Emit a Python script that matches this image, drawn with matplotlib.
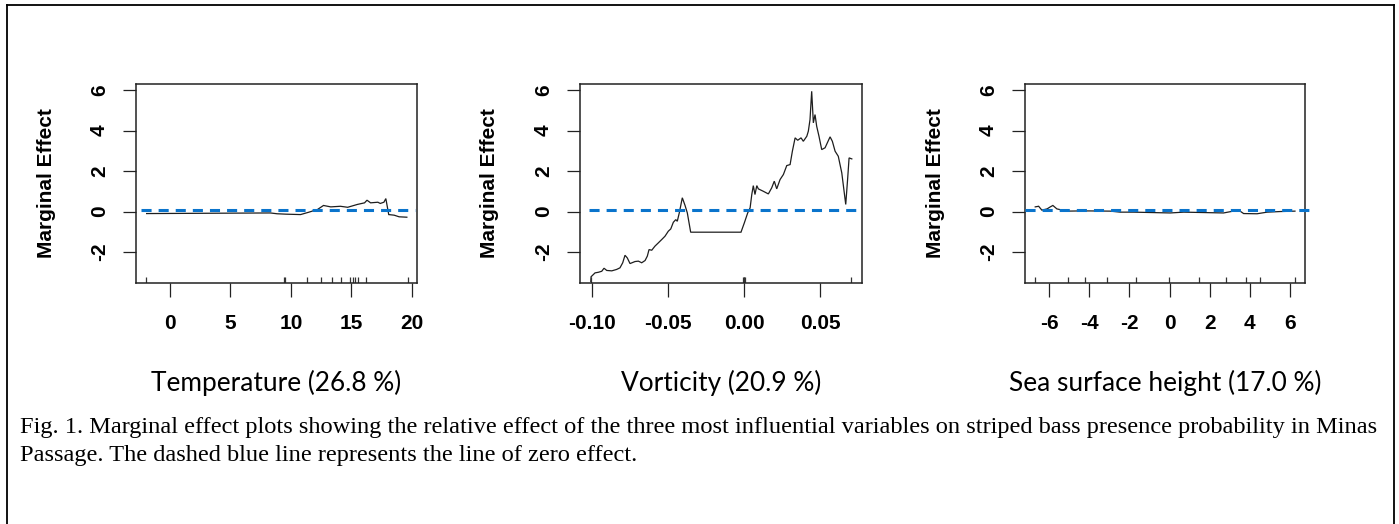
import matplotlib
matplotlib.use("Agg")
import matplotlib.pyplot as plt
from matplotlib.lines import Line2D

# ---------------- data ----------------
temp_x = [-1.94, 8.3, 8.86, 9.6, 10.8, 11.5, 12.2, 12.7, 13.3, 14.1, 14.7, 15.5,
          16.1, 16.3, 16.6, 17.2, 17.4, 17.7, 17.86, 18.0, 18.1, 18.55, 18.96, 19.6]
temp_y = [-0.10, -0.07, -0.11, -0.13, -0.15, -0.03, 0.10, 0.30, 0.23, 0.26, 0.21, 0.35,
          0.43, 0.56, 0.43, 0.46, 0.40, 0.46, 0.64, 0.18, -0.15, -0.18, -0.26, -0.28]
temp_rug = [-1.99, 9.47, 9.52, 11.35, 12.52, 13.37, 14.12, 14.87, 15.17, 15.3, 15.59, 16.2, 19.66]

vort_x = [-0.101, -0.1008, -0.0982, -0.096, -0.0938, -0.0923, -0.0905, -0.0872, -0.084,
          -0.0818, -0.080, -0.0785, -0.077, -0.0752, -0.0719, -0.0697, -0.0675, -0.0653,
          -0.0638, -0.0627, -0.0609, -0.0588, -0.0566, -0.0543, -0.0522, -0.050, -0.0484,
          -0.0467, -0.0451, -0.0441, -0.0428, -0.0408, -0.039, -0.0375, -0.0353, -0.0022,
          0.0, 0.0022, 0.0038, 0.0049, 0.0059, 0.007, 0.0082, 0.0092, 0.0125, 0.0158,
          0.018, 0.0197, 0.0213, 0.0235, 0.0257, 0.0279, 0.0301, 0.0316, 0.0334, 0.0351,
          0.0373, 0.0388, 0.0411, 0.0421, 0.0432, 0.0443, 0.0454, 0.0465, 0.0476, 0.0491,
          0.0509, 0.0531, 0.0564, 0.0579, 0.0597, 0.0618, 0.0641, 0.0667, 0.068, 0.0689,
          0.0707]
vort_y = [-3.45, -3.22, -3.03, -3.0, -2.95, -2.8, -2.91, -2.93, -2.86,
          -2.78, -2.53, -2.16, -2.29, -2.57, -2.47, -2.45, -2.53, -2.42,
          -2.2, -1.88, -1.91, -1.71, -1.55, -1.38, -1.22, -0.97, -0.86,
          -0.53, -0.40, -0.48, -0.07, 0.68, 0.30, -0.07, -1.02, -1.02,
          -0.56, -0.07, 0.18, 0.84, 1.28, 0.84, 1.28, 1.12, 1.0, 0.87,
          1.17, 1.5, 1.12, 1.58, 1.83, 2.27, 2.32, 2.98, 3.64, 3.52,
          3.64, 3.47, 3.72, 3.97, 4.54, 5.94, 4.38, 4.79, 4.21, 3.72,
          3.06, 3.15, 3.69, 3.47, 2.98, 2.73, 1.91, 0.35, 1.66, 2.65,
          2.6]
vort_rug = [-0.101, -0.0006, -0.0003, 0.0, 0.0003, 0.07]

ssh_x = [-6.7, -6.53, -6.37, -6.11, -5.95, -5.82, -5.62, -5.12, -4.45, -3.96, -2.96,
         -2.46, -1.8, 0.03, 0.7, 2.69, 3.44, 3.69, 4.36, 4.86, 5.52, 6.25]
ssh_y = [0.23, 0.26, 0.07, 0.13, 0.23, 0.30, 0.13, 0.02, 0.03, 0.03, 0.02,
         -0.03, -0.03, -0.07, -0.03, -0.07, 0.07, -0.10, -0.11, -0.03, 0.0, 0.02]
ssh_rug = [-6.73, -5.07, -4.2, -3.12, -1.68, -0.01, 1.48, 2.81, 3.83, 4.52, 6.27]

x_ticks = [[0, 5, 10, 15, 20],
           [-0.10, -0.05, 0.00, 0.05],
           [-6, -4, -2, 0, 2, 4, 6]]
x_ticklabels = [["0", "5", "10", "15", "20"],
                ["-0.10", "-0.05", "0.00", "0.05"],
                ["-6", "-4", "-2", "0", "2", "4", "6"]]
y_ticks = [-2, 0, 2, 4, 6]
y_ticklabels = ["-2", "0", "2", "4", "6"]
x_limits = [(-2.82, 20.44), (-0.1081, 0.0774), (-7.21, 6.75)]
y_limits = (-3.53, 6.3)
zero_level = 0.07
zero_spans = [(-2.43, 20.3), (-0.102, 0.0772), (-7.2, 7.17)]

titles = ["Temperature (26.8 %)", "Vorticity (20.9 %)", "Sea surface height (17.0 %)"]
ylabel = "Marginal Effect"
caption1 = ("Fig. 1. Marginal effect plots showing the relative effect of the three most "
            "influential variables on striped bass presence probability in Minas")
caption2 = "Passage. The dashed blue line represents the line of zero effect."

# ---------------- figure ----------------
W, H = 1399, 524
fig = plt.figure(figsize=(W / 100, H / 100), dpi=100)
fig.patch.set_facecolor("white")

def fx(px):
    return px / W

def fy(py):
    return 1 - py / H

panel_px = [(136, 417), (580, 862), (1025, 1305)]
top_px, bot_px = 84, 283

series = [(temp_x, temp_y, temp_rug), (vort_x, vort_y, vort_rug), (ssh_x, ssh_y, ssh_rug)]
sans = ["Liberation Sans", "DejaVu Sans"]

for i, (l, r) in enumerate(panel_px):
    ax = fig.add_axes([fx(l), fy(bot_px), (r - l) / W, (bot_px - top_px) / H])
    xs, ys, rug = series[i]
    ax.plot(xs, ys, color="#1e1e1e", lw=0.9, solid_joinstyle="miter")
    ax.vlines(rug, 0, 0.03, transform=ax.get_xaxis_transform(), color="#333333", lw=0.9)
    x0, x1 = zero_spans[i]
    ax.plot([x0, x1], [zero_level, zero_level], color="#0a74cc", lw=2.2,
            linestyle=(0, (3.3, 2.3)), clip_on=False, zorder=3)
    ax.set_xlim(*x_limits[i])
    ax.set_ylim(*y_limits)
    ax.set_xticks(x_ticks[i])
    ax.set_xticklabels(x_ticklabels[i], fontsize=15, fontweight="bold", family=sans)
    ax.set_yticks(y_ticks)
    ax.set_yticklabels(y_ticklabels, fontsize=15, fontweight="bold", family=sans,
                       rotation=90, va="center", ha="right")
    ax.tick_params(axis="x", direction="out", length=10, width=0.9, pad=12, color="#222222")
    ax.tick_params(axis="y", direction="out", length=9.4, width=0.9, pad=10, color="#222222")
    for sp in ax.spines.values():
        sp.set_linewidth(1.1)
        sp.set_color("#222222")
    ax.text(-0.32, 0.5, ylabel, transform=ax.transAxes, rotation=90, ha="center",
            va="center", fontsize=15, fontweight="bold", family=sans)
    fig.text(fx((l + r) / 2), fy(383), titles[i], ha="center", va="center",
             fontsize=18.9, family=["Lato", "DejaVu Sans"])

cap_font = ["Liberation Serif", "DejaVu Serif"]
fig.text(fx(20), fy(428), caption1, ha="left", va="center", fontsize=17.6, family=cap_font)
fig.text(fx(20), fy(455), caption2, ha="left", va="center", fontsize=17.6, family=cap_font)

# outer border (left, top, right)
border_kw = dict(color="black", lw=1.3, transform=fig.transFigure)
fig.add_artist(Line2D([fx(7), fx(7)], [0, fy(5)], **border_kw))
fig.add_artist(Line2D([fx(7), fx(1394)], [fy(5), fy(5)], **border_kw))
fig.add_artist(Line2D([fx(1394), fx(1394)], [fy(5), 0], **border_kw))

fig.savefig("out.png", dpi=100, facecolor="white")
